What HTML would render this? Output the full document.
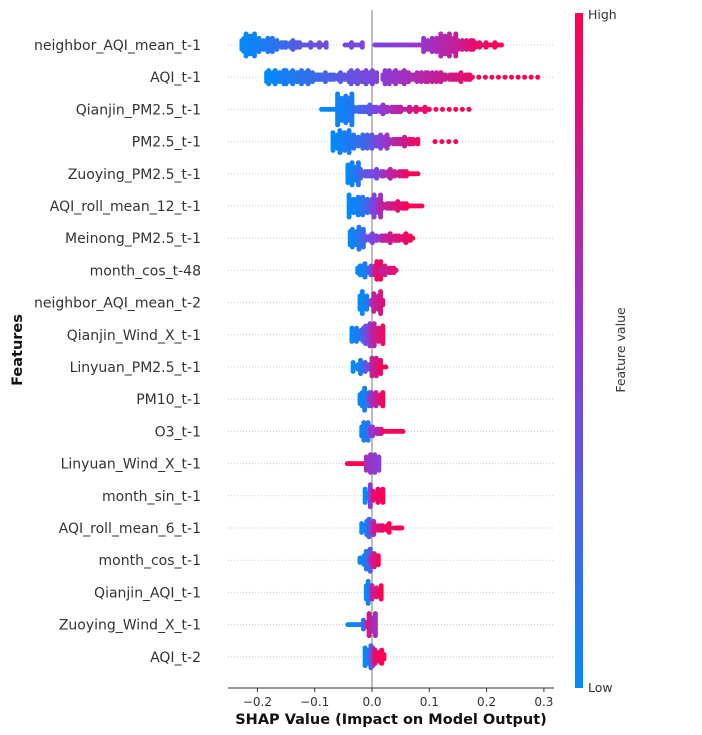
<!DOCTYPE html>
<html><head><meta charset="utf-8">
<style>
html,body{margin:0;padding:0;background:#fff;}
svg{display:block;font-family:"DejaVu Sans","Liberation Sans",sans-serif;}
</style></head>
<body>
<svg id="chart" width="702" height="735" viewBox="0 0 702 735" xmlns="http://www.w3.org/2000/svg">
  <defs>
    <linearGradient id="cbar" x1="0" y1="1" x2="0" y2="0">
      <stop offset="0" stop-color="#008bfb"/>
      <stop offset="0.5" stop-color="#8c3cd7"/>
      <stop offset="1" stop-color="#ff0052"/>
    </linearGradient>
  </defs>
  <g id="grid"></g>
  <line x1="372" y1="10" x2="372" y2="688" stroke="#999" stroke-width="1.3"/>
  <g id="dots"></g>
  <g id="labels"></g>
  <line x1="228" y1="688" x2="554" y2="688" stroke="#333" stroke-width="1"/>
  <g id="xticks"></g>
  <text x="391" y="724" text-anchor="middle" font-size="14.5" font-weight="bold" fill="#111">SHAP Value (Impact on Model Output)</text>
  <text transform="translate(22,350) rotate(-90)" text-anchor="middle" font-size="14.5" font-weight="bold" fill="#111">Features</text>
  <rect x="575" y="13" width="8" height="675" fill="url(#cbar)"/>
  <text x="588" y="19" font-size="12.5" fill="#333">High</text>
  <text x="588" y="692" font-size="12.5" fill="#333">Low</text>
  <text transform="translate(625,350) rotate(-90)" text-anchor="middle" font-size="12.5" fill="#333">Feature value</text>
</svg>
<script>
const features = ["neighbor_AQI_mean_t-1","AQI_t-1","Qianjin_PM2.5_t-1","PM2.5_t-1","Zuoying_PM2.5_t-1","AQI_roll_mean_12_t-1","Meinong_PM2.5_t-1","month_cos_t-48","neighbor_AQI_mean_t-2","Qianjin_Wind_X_t-1","Linyuan_PM2.5_t-1","PM10_t-1","O3_t-1","Linyuan_Wind_X_t-1","month_sin_t-1","AQI_roll_mean_6_t-1","month_cos_t-1","Qianjin_AQI_t-1","Zuoying_Wind_X_t-1","AQI_t-2"];
const xTicks = [-0.2,-0.1,0.0,0.1,0.2,0.3];
const xTickLabels = ["\u22120.2","\u22120.1","0.0","0.1","0.2","0.3"];
// segments: [shapStart, shapEnd, stackCount (negative = sparse), colorStart, colorEnd]
const s01 = [[-0.227,-0.205,3,0,0.05],[-0.205,-0.17,2,0.05,0.15],[-0.17,-0.13,1,0.15,0.3],[-0.13,-0.08,0.5,0.3,0.4],[-0.047,-0.017,0.5,0.4,0.45],[0.005,0.085,0,0.45,0.55],[0.09,0.12,2,0.55,0.65],[0.12,0.15,3,0.65,0.75],[0.15,0.18,1.5,0.75,0.9],[0.18,0.226,0.5,0.9,1]];
const s02 = [[-0.184,-0.15,2,0,0.08],[-0.15,-0.1,2,0.08,0.2],[-0.1,-0.04,1,0.2,0.35],[-0.04,0.008,2,0.35,0.45],[0.019,0.06,2,0.5,0.6],[0.06,0.12,1.5,0.6,0.75],[0.12,0.175,1,0.75,0.9],[0.175,0.293,-1,0.95,1]];
const s03 = [[-0.088,-0.06,0,0,0.05],[-0.06,-0.035,4,0.05,0.1],[-0.035,0.0,1,0.15,0.35],[0.0,0.05,1,0.4,0.7],[0.05,0.1,0.5,0.7,0.95],[0.1,0.177,-1,0.95,1]];
const s04 = [[-0.068,-0.04,3,0,0.1],[-0.04,0.0,2,0.1,0.3],[0.0,0.03,2,0.35,0.6],[0.03,0.08,1,0.6,0.95],[0.11,0.154,-1,1,1]];
const s05 = [[-0.042,-0.02,3,0,0.15],[-0.02,0.02,1,0.3,0.5],[0.02,0.06,1,0.6,0.9],[0.06,0.08,0,0.95,1]];
const s06 = [[-0.04,-0.012,3,0,0.15],[-0.012,0.0,2,0.2,0.3],[0.0,0.015,3,0.4,0.6],[0.015,0.06,1,0.7,0.95],[0.06,0.087,0,1,1]];
const s07 = [[-0.038,-0.015,3,0,0.2],[-0.015,0.02,1,0.3,0.6],[0.02,0.071,1,0.7,1]];
const s08 = [[-0.025,-0.008,2,0,0.1],[-0.005,0.005,1,0.3,0.5],[0.005,0.015,3,0.8,1],[0.015,0.042,1,0.7,0.9]];
const s09 = [[-0.021,-0.009,3,0,0.05],[-0.005,0.003,1,0.4,0.5],[0.003,0.019,3,0.7,0.85]];
const s10 = [[-0.035,-0.015,2,0,0.2],[-0.015,0.0,3,0.3,0.6],[0.0,0.019,3,0.7,0.9]];
const s11 = [[-0.033,-0.02,1,0,0.1],[-0.02,-0.012,2,0.1,0.2],[-0.012,0.0,1,0.3,0.5],[0.0,0.015,3,0.7,0.9],[0.015,0.024,0,1,1]];
const s12 = [[-0.021,-0.005,3,0,0.15],[-0.005,0.019,2,0.5,0.95]];
const s13 = [[-0.018,-0.003,3,0,0.2],[-0.003,0.02,1,0.5,0.8],[0.02,0.054,0,0.95,1]];
const s14 = [[-0.043,-0.01,0,1,1],[-0.01,0.012,3,0.6,0.5]];
const s15 = [[-0.012,-0.003,2,0,0.1],[-0.003,0.002,3,0.5,0.5],[0.002,0.019,2,0.85,1]];
const s16 = [[-0.018,-0.005,2,0,0.1],[-0.005,0.003,3,0.3,0.5],[0.003,0.03,1,0.8,1],[0.038,0.052,0,1,1]];
const s17 = [[-0.021,-0.01,1,0,0.1],[-0.01,-0.003,3,0.1,0.3],[-0.003,0.011,2,0.6,1]];
const s18 = [[-0.01,0.0,3,0,0.15],[0.0,0.016,2,0.7,1]];
const s19 = [[-0.042,-0.015,0,0,0.1],[-0.015,-0.005,1,0.2,0.9],[-0.005,0.006,3,0.8,0.6]];
const s20 = [[-0.012,-0.002,3,0,0.2],[-0.002,0.005,3,0.4,0.6],[0.005,0.021,2,0.9,1]];
const segments = [s01,s02,s03,s04,s05,s06,s07,s08,s09,s10,s11,s12,s13,s14,s15,s16,s17,s18,s19,s20];

const NS = "http://www.w3.org/2000/svg";
// irregular column-height pattern (styling only) to give a swarm-like outline
const ragged = [1,0.55,0.85,1.25,0.4,0.95,0.7,1.15,0.5,0.9,1.3,0.6,0.8,0.45,1.1,0.75];
function xScale(v){ return 372 + v*573; }
function yScale(i){ return 45 + i*32.2; }
function color(t){
  const a=[0,139,251], m=[140,60,215], b=[255,0,82];
  let c;
  if(t<0.5){ const u=t/0.5; c=a.map((v,k)=>Math.round(v+(m[k]-v)*u)); }
  else { const u=(t-0.5)/0.5; c=m.map((v,k)=>Math.round(v+(b[k]-v)*u)); }
  return "rgb("+c.join(",")+")";
}
const grid=document.getElementById("grid"), dots=document.getElementById("dots"), labels=document.getElementById("labels"), xt=document.getElementById("xticks");
features.forEach((f,i)=>{
  const y=yScale(i);
  const g=document.createElementNS(NS,"line");
  g.setAttribute("x1",228); g.setAttribute("x2",554); g.setAttribute("y1",y); g.setAttribute("y2",y);
  g.setAttribute("stroke","#ccc"); g.setAttribute("stroke-width","1"); g.setAttribute("stroke-dasharray","1,2");
  
  
  grid.appendChild(g);
  const t=document.createElementNS(NS,"text");
  t.setAttribute("x",201); t.setAttribute("y",y+5); t.setAttribute("text-anchor","end");
  t.setAttribute("font-size","14"); t.setAttribute("fill","#333");
  t.textContent=f;
  
  
  labels.appendChild(t);
  let col=i*5;
  segments[i].forEach(s=>{
    const x0=xScale(s[0]), x1=xScale(s[1]);
    const n=s[2];
    const steps=Math.max(1,Math.round((x1-x0)/2.2));
    for(let k=0;k<=steps;k++){
      col++;
      const u=k/steps, x=x0+(x1-x0)*u, c=color(s[3]+(s[4]-s[3])*u);
      if(n<0 && k%3!==0) continue;
      const hh = n<0 ? 0 : Math.max(0,n)*3*ragged[col%ragged.length];
      const m = Math.floor(hh/2.2+0.3);
      for(let j=-m;j<=m;j++){
        const d=document.createElementNS(NS,"circle");
        d.setAttribute("cx",x.toFixed(1)); d.setAttribute("cy",(y+j*2.2).toFixed(1));
        d.setAttribute("r","2.5"); d.setAttribute("fill",c);
        
        
        dots.appendChild(d);
      }
    }
  });
});
xTicks.forEach((v,i)=>{
  const x=xScale(v);
  const l=document.createElementNS(NS,"line");
  l.setAttribute("x1",x); l.setAttribute("x2",x); l.setAttribute("y1",688); l.setAttribute("y2",692);
  l.setAttribute("stroke","#333");
  
  
  xt.appendChild(l);
  const t=document.createElementNS(NS,"text");
  t.setAttribute("x",x); t.setAttribute("y",706); t.setAttribute("text-anchor","middle");
  t.setAttribute("font-size","12"); t.setAttribute("fill","#333");
  t.textContent=xTickLabels[i];
  
  
  xt.appendChild(t);
});
</script>
</body></html>
